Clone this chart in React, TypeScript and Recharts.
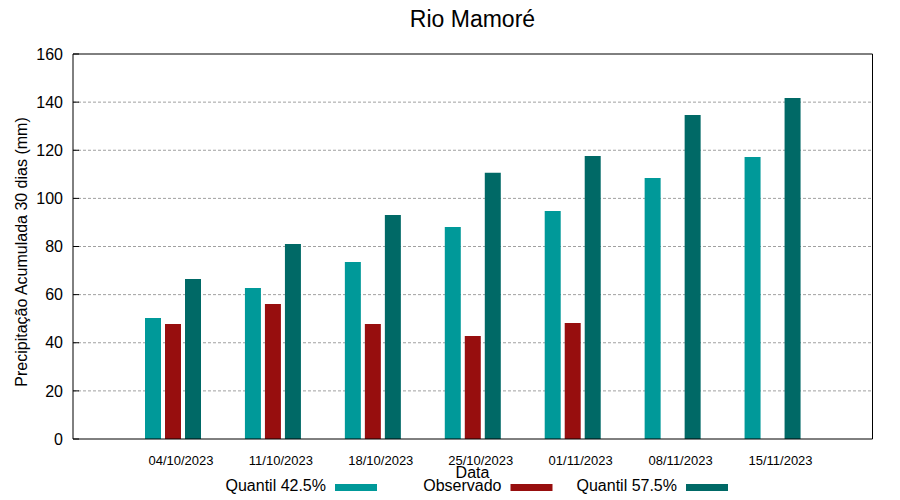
import React from 'react';
import { BarChart, Bar, XAxis, YAxis, CartesianGrid, Legend, Label, Customized } from 'recharts';

const categories = ['04/10/2023', '11/10/2023', '18/10/2023', '25/10/2023', '01/11/2023', '08/11/2023', '15/11/2023'];
const quantil425 = [50.3, 62.8, 73.6, 88.1, 94.8, 108.5, 117.2];
const observado: (number | null)[] = [47.8, 56.1, 47.8, 42.8, 48.2, null, null];
const quantil575 = [66.5, 81.0, 93.1, 110.6, 117.6, 134.7, 141.7];
const yTicks = [0, 20, 40, 60, 80, 100, 120, 140, 160];
const gridValues = [20, 40, 60, 80, 100, 120, 140];

const seriesNames = ['Quantil 42.5%', 'Observado', 'Quantil 57.5%'];
const seriesColors = ['#009999', '#970e0e', '#006966'];

const data = categories.map((c, i) => ({
  date: c,
  q425: quantil425[i],
  obs: observado[i],
  q575: quantil575[i],
}));

const FONT = '"Liberation Sans", Arial, Helvetica, sans-serif';

const LegendContent = () => (
  <svg width={900} height={500} style={{ position: 'absolute', left: 0, top: 0, overflow: 'visible' }}>
    {seriesNames.map((name, i) => {
      const sx = 335 + 175.5 * i;
      return (
        <g key={name}>
          <text x={sx - 9} y={491} textAnchor="end" fontSize={16} fontFamily={FONT} fill="#000">
            {name}
          </text>
          <rect x={sx} y={484} width={42} height={7} fill={seriesColors[i]} />
        </g>
      );
    })}
  </svg>
);

const Title = () => (
  <text x={472.5} y={27} textAnchor="middle" fontSize={23} fontFamily={FONT} fill="#000">
    Rio Mamoré
  </text>
);

const empty = () => '';

export default function App() {
  return (
    <div style={{ position: 'absolute', left: 0, top: 0, width: 900, height: 500, background: '#fff' }}>
      <BarChart
        width={900}
        height={500}
        data={data}
        margin={{ top: 53, right: 0, bottom: 31, left: 0 }}
        barSize={16}
        barGap={4}
      >
        <CartesianGrid
          yAxisId="left"
          vertical={false}
          stroke="#a0a0a0"
          strokeDasharray="3 2"
          horizontalValues={gridValues}
        />
        <XAxis
          dataKey="date"
          height={30}
          padding={{ left: 50, right: 50 }}
          axisLine={{ stroke: '#000', strokeWidth: 1 }}
          tickLine={false}
          tickSize={0}
          tickMargin={17}
          tick={{ fontSize: 13, fontFamily: FONT, fill: '#000', dx: 8 }}
          interval={0}
        >
          <Label
            content={() => (
              <text x={472.5} y={478} textAnchor="middle" fontSize={16} fontFamily={FONT} fill="#000">
                Data
              </text>
            )}
          />
        </XAxis>
        <XAxis
          xAxisId="top"
          dataKey="date"
          orientation="top"
          height={1}
          padding={{ left: 50, right: 50 }}
          axisLine={{ stroke: '#000', strokeWidth: 1 }}
          tickLine={false}
          tickFormatter={empty}
        />
        <YAxis
          yAxisId="left"
          width={73}
          domain={[0, 160]}
          ticks={yTicks}
          type="number"
          axisLine={{ stroke: '#000', strokeWidth: 1 }}
          tickLine={{ stroke: '#000' }}
          tickSize={-6}
          tickMargin={16}
          tick={{ fontSize: 16, fontFamily: FONT, fill: '#000' }}
          interval={0}
        >
          <Label
            content={() => (
              <text
                x={27}
                y={252}
                transform="rotate(-90 27 252)"
                textAnchor="middle"
                fontSize={16}
                fontFamily={FONT}
                fill="#000"
              >
                Precipitação Acumulada 30 dias (mm)
              </text>
            )}
          />
        </YAxis>
        <YAxis
          yAxisId="right"
          orientation="right"
          width={27.5}
          domain={[0, 160]}
          ticks={yTicks}
          type="number"
          axisLine={{ stroke: '#000', strokeWidth: 1 }}
          tickLine={{ stroke: '#000' }}
          tickSize={-6}
          tickFormatter={empty}
          interval={0}
        />
        <Bar yAxisId="left" dataKey="q425" name={seriesNames[0]} fill={seriesColors[0]} isAnimationActive={false} />
        <Bar yAxisId="left" dataKey="obs" name={seriesNames[1]} fill={seriesColors[1]} isAnimationActive={false} />
        <Bar yAxisId="left" dataKey="q575" name={seriesNames[2]} fill={seriesColors[2]} isAnimationActive={false} />
        <Legend
          content={LegendContent}
          wrapperStyle={{ position: 'absolute', left: 0, top: 0, width: 0, height: 0, overflow: 'visible' }}
        />
        <Customized component={Title} />
      </BarChart>
    </div>
  );
}
